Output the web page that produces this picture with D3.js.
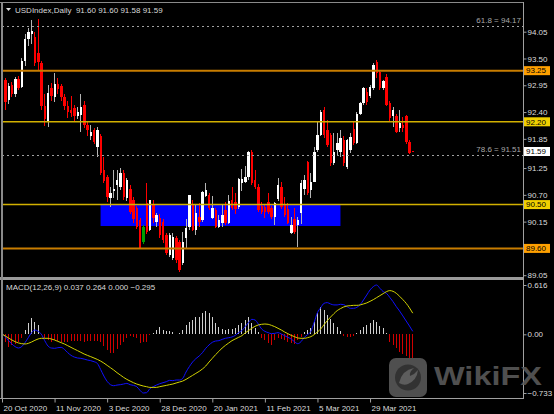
<!DOCTYPE html>
<html>
<head>
<meta charset="utf-8">
<script src="https://cdn.jsdelivr.net/npm/d3@7"></script>
<style>
  html, body { margin: 0; padding: 0; background: #000; }
  svg { display: block; }
  text { font-family: 'Liberation Sans', Arial, sans-serif; }
</style>
</head>
<body>
<div id="chart"></div>
<script>
// daily bars, 20 Oct 2020 .. 15 Apr 2021 (broker skips 25 Dec and 1 Jan)
const dates = [
  '2020-10-20','2020-10-21','2020-10-22','2020-10-23','2020-10-26','2020-10-27','2020-10-28','2020-10-29','2020-10-30',
  '2020-11-02','2020-11-03','2020-11-04','2020-11-05','2020-11-06','2020-11-09','2020-11-10','2020-11-11','2020-11-12','2020-11-13',
  '2020-11-16','2020-11-17','2020-11-18','2020-11-19','2020-11-20','2020-11-23','2020-11-24','2020-11-25','2020-11-26','2020-11-27','2020-11-30',
  '2020-12-01','2020-12-02','2020-12-03','2020-12-04','2020-12-07','2020-12-08','2020-12-09','2020-12-10','2020-12-11','2020-12-14',
  '2020-12-15','2020-12-16','2020-12-17','2020-12-18','2020-12-21','2020-12-22','2020-12-23','2020-12-24','2020-12-28','2020-12-29','2020-12-30','2020-12-31',
  '2021-01-04','2021-01-05','2021-01-06','2021-01-07','2021-01-08','2021-01-11','2021-01-12','2021-01-13','2021-01-14','2021-01-15',
  '2021-01-18','2021-01-19','2021-01-20','2021-01-21','2021-01-22','2021-01-25','2021-01-26','2021-01-27','2021-01-28','2021-01-29',
  '2021-02-01','2021-02-02','2021-02-03','2021-02-04','2021-02-05','2021-02-08','2021-02-09','2021-02-10','2021-02-11','2021-02-12',
  '2021-02-15','2021-02-16','2021-02-17','2021-02-18','2021-02-19','2021-02-22','2021-02-23','2021-02-24','2021-02-25','2021-02-26',
  '2021-03-01','2021-03-02','2021-03-03','2021-03-04','2021-03-05','2021-03-08','2021-03-09','2021-03-10','2021-03-11','2021-03-12',
  '2021-03-15','2021-03-16','2021-03-17','2021-03-18','2021-03-19','2021-03-22','2021-03-23','2021-03-24','2021-03-25','2021-03-26',
  '2021-03-29','2021-03-30','2021-03-31','2021-04-01','2021-04-02','2021-04-05','2021-04-06','2021-04-07','2021-04-08','2021-04-09',
  '2021-04-12','2021-04-13','2021-04-14','2021-04-15'
]

const open = [
  93.50, 93.05, 92.65, 92.95, 92.77, 93.07, 92.92, 93.45, 93.91, 94.00,
  93.95, 93.62, 93.40, 92.52, 92.22, 92.90, 92.70, 92.97, 92.93, 92.70,
  92.52, 92.45, 92.48, 92.32, 92.34, 92.55, 92.13, 91.90, 92.03, 91.69,
  91.90, 91.20, 91.07, 90.63, 90.77, 90.90, 90.87, 91.14, 90.63, 90.83,
  90.59, 90.42, 90.18, 89.74, 90.53, 89.98, 90.52, 90.15, 90.22, 90.15,
  89.88, 89.47, 89.40, 89.81, 89.74, 89.30, 89.81, 90.05, 90.49, 89.98,
  90.25, 90.18, 90.67, 90.70, 90.22, 90.39, 90.05, 90.12, 90.39, 90.12,
  90.60, 90.55, 90.45, 90.94, 90.97, 91.07, 91.59, 91.00, 90.87, 90.47,
  90.46, 90.55, 90.44, 90.25, 90.62, 90.87, 90.49, 90.40, 89.92, 90.20,
  90.08, 90.32, 90.83, 91.38, 90.80, 90.97, 91.62, 91.93, 92.44, 92.03,
  91.93, 91.35, 91.62, 91.59, 91.83, 91.28, 91.62, 92.05, 91.76, 92.37,
  92.58, 92.82, 92.72, 92.89, 93.43, 93.23, 92.89, 93.13, 92.58, 92.31,
  92.31, 92.07, 92.13, 92.31, 91.79, 91.60
]
const high = [
  93.62, 93.10, 93.00, 93.02, 93.12, 93.15, 93.52, 94.00, 94.12, 94.30,
  94.05, 94.32, 93.45, 92.78, 92.95, 93.00, 93.20, 93.10, 92.98, 92.78,
  92.62, 92.72, 92.55, 92.50, 92.78, 92.62, 92.20, 92.13, 92.08, 92.10,
  91.95, 91.48, 91.10, 90.87, 91.20, 91.20, 91.25, 91.20, 91.05, 90.90,
  90.65, 90.48, 90.22, 90.08, 90.94, 90.60, 90.59, 90.32, 90.30, 90.20,
  89.92, 89.91, 89.91, 89.86, 89.78, 89.94, 90.20, 90.70, 90.60, 90.49,
  90.54, 90.78, 90.94, 90.73, 90.67, 90.42, 90.28, 90.49, 90.56, 90.70,
  90.87, 90.73, 91.05, 91.24, 91.29, 91.60, 91.62, 91.21, 90.92, 90.55,
  90.50, 90.73, 90.48, 90.56, 91.05, 90.96, 90.66, 90.53, 90.25, 90.42,
  90.25, 91.00, 91.10, 91.40, 91.14, 91.69, 92.20, 92.44, 92.51, 92.23,
  91.96, 91.96, 91.96, 92.03, 91.90, 91.85, 91.96, 92.20, 92.40, 92.61,
  92.92, 92.90, 92.95, 93.40, 93.47, 93.27, 93.06, 93.18, 92.62, 92.51,
  92.35, 92.44, 92.30, 92.34, 91.82, 91.60
]
const low = [
  93.00, 92.45, 92.57, 92.70, 92.70, 92.85, 92.90, 93.35, 93.75, 93.80,
  93.35, 93.25, 92.45, 92.12, 92.10, 92.62, 92.60, 92.78, 92.62, 92.44,
  92.28, 92.30, 92.22, 92.25, 92.00, 92.08, 91.90, 91.83, 91.75, 91.48,
  91.10, 90.95, 90.55, 90.46, 90.63, 90.60, 90.80, 90.60, 90.58, 90.30,
  90.12, 90.00, 89.58, 89.70, 89.90, 89.95, 90.12, 90.05, 89.82, 89.72,
  89.46, 89.43, 89.36, 89.30, 89.12, 89.26, 89.60, 89.98, 89.95, 89.88,
  90.05, 90.15, 90.65, 90.39, 90.20, 90.02, 90.01, 90.05, 90.08, 90.10,
  90.39, 90.30, 90.40, 90.77, 90.94, 91.00, 90.90, 90.83, 90.35, 90.30,
  90.22, 90.30, 90.20, 90.08, 90.58, 90.40, 90.25, 90.10, 89.90, 89.90,
  89.63, 90.10, 90.70, 90.70, 90.63, 90.97, 91.58, 91.90, 91.86, 91.69,
  91.30, 91.31, 91.52, 91.48, 91.30, 91.24, 91.55, 91.72, 91.74, 92.33,
  92.55, 92.55, 92.68, 92.85, 93.10, 92.85, 92.85, 92.52, 92.22, 92.10,
  91.97, 92.00, 92.00, 91.75, 91.53, 91.58
]
const close = [
  93.05, 92.61, 92.93, 92.77, 93.07, 92.90, 93.45, 93.91, 94.04, 94.07,
  93.40, 93.42, 92.52, 92.25, 92.80, 92.72, 92.97, 92.88, 92.70, 92.52,
  92.40, 92.38, 92.32, 92.40, 92.51, 92.13, 92.03, 92.00, 91.79, 92.03,
  91.14, 90.98, 90.66, 90.73, 90.83, 91.00, 91.15, 90.66, 91.00, 90.35,
  90.20, 90.05, 89.60, 90.05, 89.94, 90.59, 90.22, 90.29, 89.88, 89.77,
  89.50, 89.88, 89.84, 89.36, 89.16, 89.74, 90.01, 90.70, 89.98, 90.32,
  90.15, 90.76, 90.80, 90.42, 90.42, 90.05, 90.18, 90.29, 90.12, 90.57,
  90.42, 90.40, 91.02, 91.02, 91.07, 91.57, 90.94, 90.87, 90.39, 90.35,
  90.35, 90.35, 90.25, 90.53, 90.90, 90.45, 90.29, 90.12, 90.08, 89.94,
  90.18, 90.94, 91.00, 90.73, 90.97, 91.59, 91.93, 92.41, 91.93, 91.72,
  91.35, 91.59, 91.76, 91.86, 91.35, 91.83, 91.89, 91.76, 92.37, 92.58,
  92.89, 92.61, 92.92, 93.37, 93.20, 92.89, 93.04, 92.55, 92.27, 92.44,
  92.00, 92.17, 92.07, 91.79, 91.55, 91.59
]
// bar that the platform painted green
const greenBars = ['2020-12-18']

// MACD(12,26,9)
const macdHist = [
  -0.071, -0.092, -0.154, -0.133, -0.121, -0.092, -0.050, 0.054, 0.137, 0.200,
  0.158, 0.117, -0.013, -0.050, -0.071, -0.092, -0.071, -0.079, -0.092, -0.092,
  -0.092, -0.084, -0.079, -0.079, -0.079, -0.092, -0.079, -0.079, -0.079, -0.079,
  -0.092, -0.146, -0.196, -0.238, -0.238, -0.188, -0.133, -0.092, -0.050, -0.021,
  -0.029, -0.050, -0.104, -0.092, -0.092, -0.009, 0.021, 0.054, 0.087, 0.054,
  0.046, 0.046, 0.033, 0.004, 0.021, 0.054, 0.117, 0.158, 0.179, 0.221,
  0.221, 0.271, 0.296, 0.271, 0.221, 0.146, 0.096, 0.062, 0.054, 0.062,
  0.062, 0.075, 0.117, 0.146, 0.179, 0.221, 0.137, 0.075, 0.033, -0.050,
  -0.071, -0.104, -0.133, -0.071, -0.050, -0.063, -0.071, -0.092, -0.104, -0.121,
  -0.071, -0.029, 0.033, 0.054, 0.075, 0.158, 0.271, 0.337, 0.304, 0.241,
  0.187, 0.137, 0.087, 0.046, -0.021, -0.029, -0.029, -0.021, 0.012, 0.054,
  0.096, 0.117, 0.146, 0.179, 0.158, 0.104, 0.075, 0.012, -0.092, -0.133,
  -0.175, -0.217, -0.250, -0.275, -0.295, -0.295
]
const macdMain = [
  0.004, -0.029, -0.079, -0.121, -0.154, -0.171, -0.154, -0.104, -0.042, 0.021,
  0.054, 0.037, 0.000, -0.079, -0.146, -0.171, -0.175, -0.167, -0.163, -0.188,
  -0.229, -0.263, -0.284, -0.296, -0.300, -0.309, -0.321, -0.329, -0.342, -0.363,
  -0.438, -0.521, -0.588, -0.629, -0.642, -0.634, -0.629, -0.621, -0.613, -0.629,
  -0.638, -0.654, -0.700, -0.733, -0.729, -0.679, -0.654, -0.634, -0.617, -0.604,
  -0.592, -0.575, -0.579, -0.571, -0.571, -0.550, -0.471, -0.404, -0.346, -0.304,
  -0.271, -0.229, -0.175, -0.133, -0.100, -0.084, -0.079, -0.063, -0.050, -0.042,
  -0.033, -0.013, 0.021, 0.046, 0.096, 0.146, 0.187, 0.179, 0.129, 0.067,
  0.037, 0.021, 0.008, 0.012, 0.021, 0.004, -0.017, -0.038, -0.059, -0.092,
  -0.117, -0.092, -0.038, -0.004, 0.037, 0.150, 0.271, 0.333, 0.387, 0.396,
  0.379, 0.367, 0.367, 0.375, 0.371, 0.346, 0.325, 0.325, 0.337, 0.371,
  0.429, 0.491, 0.554, 0.596, 0.616, 0.575, 0.533, 0.512, 0.462, 0.408,
  0.346, 0.291, 0.229, 0.166, 0.104, 0.037
]
const macdSignal = [
  0.004, -0.021, -0.046, -0.071, -0.092, -0.108, -0.117, -0.121, -0.113, -0.096,
  -0.075, -0.058, -0.050, -0.050, -0.050, -0.058, -0.071, -0.088, -0.104, -0.121,
  -0.142, -0.163, -0.184, -0.204, -0.225, -0.246, -0.263, -0.279, -0.296, -0.313,
  -0.334, -0.359, -0.388, -0.417, -0.446, -0.479, -0.508, -0.538, -0.563, -0.584,
  -0.604, -0.621, -0.634, -0.646, -0.654, -0.663, -0.663, -0.663, -0.654, -0.646,
  -0.638, -0.629, -0.621, -0.608, -0.596, -0.584, -0.563, -0.538, -0.513, -0.488,
  -0.463, -0.433, -0.396, -0.346, -0.300, -0.254, -0.213, -0.171, -0.138, -0.108,
  -0.079, -0.058, -0.038, -0.017, 0.017, 0.046, 0.075, 0.100, 0.117, 0.125,
  0.129, 0.125, 0.112, 0.096, 0.075, 0.054, 0.029, 0.008, -0.013, -0.029,
  -0.046, -0.050, -0.050, -0.042, -0.029, -0.004, 0.029, 0.067, 0.121, 0.171,
  0.216, 0.258, 0.296, 0.321, 0.342, 0.354, 0.358, 0.362, 0.362, 0.367,
  0.379, 0.392, 0.412, 0.433, 0.458, 0.483, 0.508, 0.533, 0.546, 0.537,
  0.512, 0.475, 0.433, 0.387, 0.330, 0.264
]

const timeTicks = ['2020-10-20','2020-11-11','2020-12-03','2020-12-28','2021-01-20','2021-02-11','2021-03-05','2021-03-29']
const priceTicks = [94.05, 93.50, 92.95, 92.40, 91.85, 91.25, 90.70, 90.15, 89.05]
const macdTicks = [0.616, 0, -0.733]

const orangeLevels = [93.25, 89.60]
const yellowLevels = [92.20, 90.50]
const fibRatios = [61.8, 78.6]
const fibPrices = [94.17, 91.51]
const zoneDates = ['2020-12-01', '2021-03-16']
const zonePrices = [90.50, 90.06]

const symbol = 'USDIndex,Daily'
const lastBar = [91.60, 91.60, 91.58, 91.59]
const macdLegend = [0.037, 0.264, 0.000, -0.295]


const width = 554, height = 414
const pane = { left: 2, right: 523, top: 3, mainBottom: 277, macdTop: 281, bottom: 398 }

const parse = d3.timeParse('%Y-%m-%d')
const fmtDate = d3.timeFormat('%-d %b %Y')
const f2 = d3.format('.2f')

const bars = dates.map((d, i) => ({ date: d, o: open[i], h: high[i], l: low[i], c: close[i] }))

const svg = d3.select('#chart').append('svg')
  .attr('width', width)
  .attr('height', height)
  .style('background', '#000')

const x = d3.scalePoint().domain(dates).range([2, 412.75])
const y = d3.scaleLinear().domain([89.05, 94.05]).range([275.2, 31.7])
const yM = d3.scaleLinear().domain([-0.733, 0.616]).range([393, 285])

svg.append('clipPath').attr('id', 'clipMain')
  .append('rect').attr('x', pane.left).attr('y', pane.top)
  .attr('width', pane.right - pane.left).attr('height', pane.mainBottom - pane.top)
svg.append('clipPath').attr('id', 'clipMacd')
  .append('rect').attr('x', pane.left).attr('y', pane.macdTop)
  .attr('width', pane.right - pane.left).attr('height', pane.bottom - pane.macdTop)

/** main pane **/
const main = svg.append('g').attr('clip-path', 'url(#clipMain)')

// support zone, drawn as background
main.append('rect')
  .attr('x', x(zoneDates[0]))
  .attr('width', x(zoneDates[1]) - x(zoneDates[0]))
  .attr('y', y(zonePrices[0]))
  .attr('height', y(zonePrices[1]) - y(zonePrices[0]))
  .attr('fill', '#0000ff')

const candles = main.append('g').attr('shape-rendering', 'crispEdges')
  .selectAll('g')
  .data(bars)
  .enter()
  .append('g')

const candleColor = d => greenBars.includes(d.date) ? '#00a000' : (d.c >= d.o ? '#ffffff' : '#ff0000')

candles.append('line')
  .attr('x1', d => x(d.date)).attr('x2', d => x(d.date))
  .attr('y1', d => y(d.h)).attr('y2', d => y(d.l))
  .attr('stroke', d => greenBars.includes(d.date) ? '#00a000' : (d.c >= d.o ? '#b4b4b4' : '#ff0000'))
  .attr('stroke-width', 1)

candles.append('rect')
  .attr('x', d => x(d.date) - 1)
  .attr('width', 2.4)
  .attr('y', d => y(Math.max(d.o, d.c)))
  .attr('height', d => Math.max(1, Math.abs(y(d.o) - y(d.c))))
  .attr('fill', candleColor)

// horizontal levels
main.selectAll('.lvlO').data(orangeLevels).enter().append('line')
  .attr('x1', pane.left).attr('x2', pane.right)
  .attr('y1', d => y(d)).attr('y2', d => y(d))
  .attr('stroke', '#c87d00').attr('stroke-width', 2)
main.selectAll('.lvlY').data(yellowLevels).enter().append('line')
  .attr('x1', pane.left).attr('x2', pane.right)
  .attr('y1', d => y(d)).attr('y2', d => y(d))
  .attr('stroke', '#d2b000').attr('stroke-width', 1.5)

// fibonacci lines
const fib = main.selectAll('.fib').data(fibPrices).enter().append('g')
fib.append('line')
  .attr('x1', pane.left).attr('x2', pane.right)
  .attr('y1', d => Math.round(y(d)) + 0.5).attr('y2', d => Math.round(y(d)) + 0.5)
  .attr('stroke', '#a0a0a0').attr('stroke-dasharray', '2,3')
fib.append('text')
  .attr('x', 521).attr('y', d => y(d) - 3)
  .attr('text-anchor', 'end')
  .attr('font-size', 8).attr('fill', '#a8a8a8')
  .text((d, i) => `${fibRatios[i]} = ${f2(d)}`)

/** MACD pane **/
const macd = svg.append('g').attr('clip-path', 'url(#clipMacd)')

macd.append('g').attr('shape-rendering', 'crispEdges')
  .selectAll('line')
  .data(macdHist)
  .enter()
  .append('line')
    .attr('x1', (d, i) => x(dates[i])).attr('x2', (d, i) => x(dates[i]))
    .attr('y1', yM(0)).attr('y2', d => yM(d))
    .attr('stroke', d => d >= 0 ? '#cfcfcf' : '#d00000')
    .attr('stroke-width', 1)

const lineM = d3.line().x((d, i) => x(dates[i])).y(d => yM(d)).curve(d3.curveMonotoneX)
macd.append('path').datum(macdMain).attr('d', lineM)
  .attr('fill', 'none').attr('stroke', '#1010ff').attr('stroke-width', 1)
macd.append('path').datum(macdSignal).attr('d', lineM)
  .attr('fill', 'none').attr('stroke', '#d2d200').attr('stroke-width', 1)

/** frame **/
const frame = svg.append('g').attr('shape-rendering', 'crispEdges')
frame.append('line').attr('x1', 0).attr('x2', pane.right).attr('y1', 2.5).attr('y2', 2.5).attr('stroke', '#8a8a8a')
frame.append('rect').attr('x', 0).attr('y', 277).attr('width', pane.right + 1).attr('height', 3).attr('fill', '#9a9a9a')
frame.append('rect').attr('x', 1).attr('y', 3).attr('width', 2).attr('height', pane.bottom - 3).attr('fill', '#8a8a8a')
frame.append('line').attr('x1', pane.right + 0.5).attr('x2', pane.right + 0.5).attr('y1', 2).attr('y2', pane.bottom)
  .attr('stroke', '#a0a0a0')

/** axes **/
const styleAxis = g => {
  g.selectAll('.domain').attr('stroke', '#a0a0a0')
  g.selectAll('.tick line').attr('stroke', '#a0a0a0')
  g.selectAll('.tick text').attr('fill', '#dcdcdc').attr('font-size', 8)
    .attr('font-family', "'Liberation Sans', Arial, sans-serif")
}

svg.append('g')
  .attr('transform', `translate(${pane.right + 0.5},0)`)
  .call(d3.axisRight(y).tickValues(priceTicks).tickFormat(f2).tickSize(3).tickPadding(1))
  .call(g => g.select('.domain').remove())
  .call(styleAxis)

svg.append('g')
  .attr('transform', `translate(${pane.right + 0.5},0)`)
  .call(d3.axisRight(yM).tickValues(macdTicks)
    .tickFormat(d => d === 0 ? '0.00' : d3.format('.3f')(d)).tickSize(3).tickPadding(1))
  .call(g => g.select('.domain').remove())
  .call(styleAxis)

svg.append('g')
  .attr('transform', `translate(0,${pane.bottom + 0.5})`)
  .call(d3.axisBottom(x).tickValues(timeTicks).tickFormat(d => fmtDate(parse(d))).tickSize(4).tickPadding(3).tickSizeOuter(0))
  .call(g => g.select('.domain').attr('d', `M0,0H${pane.right + 1}`))
  .call(styleAxis)
  .call(g => g.selectAll('.tick text').attr('text-anchor', 'start').attr('dx', 1))

// price tags on the scale
const tag = (price, fill) => {
  const t = svg.append('g').attr('transform', `translate(524,${y(price)})`)
  t.append('rect').attr('x', 0).attr('y', -4.5).attr('width', 26).attr('height', 9).attr('fill', fill)
  t.append('text').attr('x', 2).attr('dy', '0.35em').attr('font-size', 8).attr('fill', '#000').text(f2(price))
}
orangeLevels.forEach(p => tag(p, '#ffa000'))
yellowLevels.forEach(p => tag(p, '#f0d000'))
tag(lastBar[3], '#ffffff')

/** labels **/
svg.append('path').attr('d', 'M6,8 L11,8 L8.5,11 Z').attr('fill', '#e0e0e0')
svg.append('text')
  .attr('x', 15).attr('y', 12.5)
  .attr('font-size', 8).attr('fill', '#d8d8d8')
  .attr('xml:space', 'preserve')
  .text(`${symbol}  ${lastBar.map(f2).join(' ')}`)

svg.append('text')
  .attr('x', 6).attr('y', 290)
  .attr('font-size', 8).attr('fill', '#d8d8d8')
  .text(`MACD(12,26,9) ${macdLegend.map(d3.format('.3f')).join(' ')}`)

/** watermark **/
const wm = svg.append('g').attr('opacity', 0.88)
wm.append('rect').attr('x', 389).attr('y', 358).attr('width', 38).attr('height', 39).attr('rx', 7)
  .attr('fill', '#5a5a5a')
wm.append('circle').attr('cx', 408).attr('cy', 377.5).attr('r', 13).attr('fill', '#3a3a3a')
wm.append('path')
  .attr('d', 'M399,383 Q402,370 414,368 Q409,372 410,376 Q415,374 418,370 Q417,380 408,384 Q404,386 399,383 Z')
  .attr('fill', '#6a6a6a')
wm.append('text')
  .attr('x', 434).attr('y', 385)
  .attr('font-size', 25).attr('font-weight', 'bold')
  .attr('font-family', "'DejaVu Sans', sans-serif")
  .attr('textLength', 108).attr('lengthAdjust', 'spacingAndGlyphs')
  .attr('fill', '#5a5a5a')
  .text('WikiFX')
</script>
</body>
</html>
